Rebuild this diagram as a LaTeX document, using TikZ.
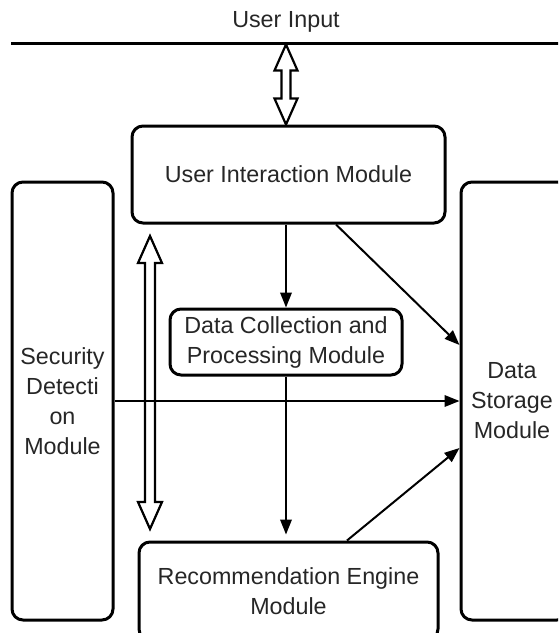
\documentclass[tikz,border=0pt]{standalone}
\usepackage{fontspec}
\setmainfont{Liberation Sans}
\usetikzlibrary{arrows.meta,calc}
\definecolor{txt}{HTML}{262626}
\tikzset{
  modbox/.style={draw=black, line width=3pt, rounded corners=11pt, align=center,
    text=txt, font=\fontsize{23.3}{30}\selectfont, inner sep=0pt},
  arr/.style={draw=black, line width=2pt, -{Triangle[length=15pt,width=11.5pt]}},
  hollowarr/.style={draw=black, line width=2.2pt, fill=white, line join=miter},
  lbl/.style={text=txt, font=\fontsize{23.3}{30}\selectfont, inner sep=0pt},
}
\newcommand{\hollowdbl}[5]{%
  \draw[hollowarr] let \p1=(#1), \p2=(#2) in
    (\x1,\y1) -- (\x1+#4,\y1-#5) -- (\x1+#3,\y1-#5) -- (\x1+#3,\y2+#5)
    -- (\x1+#4,\y2+#5) -- (\x1,\y2) -- (\x1-#4,\y2+#5) -- (\x1-#3,\y2+#5)
    -- (\x1-#3,\y1-#5) -- (\x1-#4,\y1-#5) -- cycle;}
\begin{document}
\begin{tikzpicture}[x=1pt, y=-1pt]
  \useasboundingbox (0,0) rectangle (558,633);
  \clip (0,0) rectangle (558,633);

  % user input line
  \node[lbl] (uin) at (286,22) {User Input};
  \coordinate (lineL) at (11,43);
  \coordinate (lineR) at (575,43);
  \draw[line width=3pt] (lineL) -- (lineR);

  % modules
  \node[modbox, minimum width=313pt, minimum height=97pt] (uim) at (288.5,174.5) {User Interaction Module};
  \node[modbox, minimum width=101pt, minimum height=438pt] (sdm) at (62.5,401) {Security\\Detecti\\on\\Module};
  \node[modbox, minimum width=107pt, minimum height=438pt, text width=107pt] (dsm) at (514.5,401) {\hspace*{-5pt}Data\\\hspace*{-5pt}Storage\\\hspace*{-5pt}Module};
  \node[modbox, minimum width=232pt, minimum height=66pt] (dcp) at (286,342) {Data Collection and\\Processing Module};
  \node[modbox, minimum width=299pt, minimum height=98pt] (rem) at (288.5,591) {Recommendation Engine\\Module};

  % hollow double arrows
  \coordinate (hA1) at (286,44.5);
  \coordinate (hA2) at (hA1 |- uim.north);
  \hollowdbl{hA1}{hA2}{4.5pt}{11.5pt}{26pt}
  \coordinate (hB1) at (150,236);
  \coordinate (hB2) at (150,529);
  \hollowdbl{hB1}{hB2}{5pt}{12pt}{27pt}

  % arrows
  \draw[arr] (dcp.north |- uim.south) -- (dcp.north);
  \draw[arr] ([xshift=47.5pt]uim.south) -- ([yshift=56pt]dsm.west);
  \draw[arr] (sdm.east) -- (sdm.east -| dsm.west);
  \draw[arr, shorten >=6pt] (dcp.south) -- (dcp.south |- rem.north);
  \draw[arr] ([xshift=58.5pt]rem.north) -- ([yshift=-47pt]dsm.west);
\end{tikzpicture}
\end{document}
